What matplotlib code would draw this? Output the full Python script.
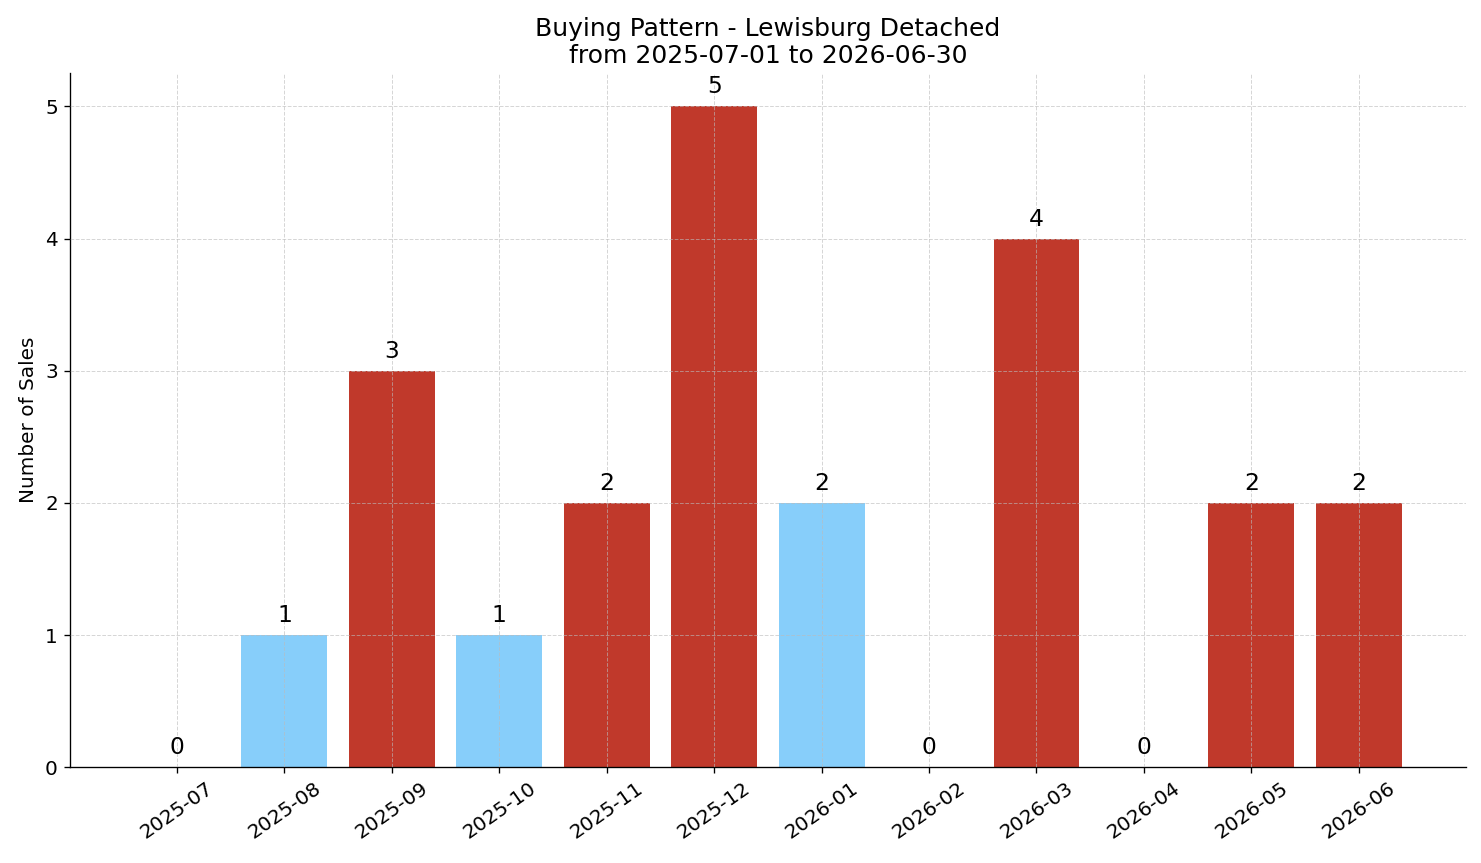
import numpy as np
import matplotlib
matplotlib.use("Agg")
import matplotlib.pyplot as plt

months = ['2025-07', '2025-08', '2025-09', '2025-10', '2025-11', '2025-12',
          '2026-01', '2026-02', '2026-03', '2026-04', '2026-05', '2026-06']
sales = [0, 1, 3, 1, 2, 5, 2, 0, 4, 0, 2, 2]
bar_colors = ['#87CEFA', '#87CEFA', '#C0392B', '#87CEFA', '#C0392B', '#C0392B',
              '#87CEFA', '#87CEFA', '#C0392B', '#87CEFA', '#C0392B', '#C0392B']

fig, ax = plt.subplots(figsize=(1481 / 120, 863 / 120), dpi=120)
x = np.arange(len(months))
ax.bar(x, sales, width=0.8, color=bar_colors)

for xi, v in zip(x, sales):
    ax.text(xi, v + 0.06, str(v), ha='center', va='bottom', fontsize=14)

ax.set_xticks(x)
ax.set_xticklabels(months, rotation=35, fontsize=12)
ax.tick_params(axis='y', labelsize=12)
ax.set_xlim(-1.0, 12.0)
ax.set_ylim(0, 5.25)
ax.set_ylabel('Number of Sales', fontsize=12)
ax.set_title('Buying Pattern - Lewisburg Detached\nfrom 2025-07-01 to 2026-06-30', fontsize=15)
ax.set_axisbelow(False)
ax.grid(True, linestyle='--', color='#bbbbbb', linewidth=0.6, alpha=0.6)
ax.spines['top'].set_visible(False)
ax.spines['right'].set_visible(False)

fig.subplots_adjust(left=0.047, right=0.99, top=0.915, bottom=0.111)
fig.savefig('out.png', dpi=120)
